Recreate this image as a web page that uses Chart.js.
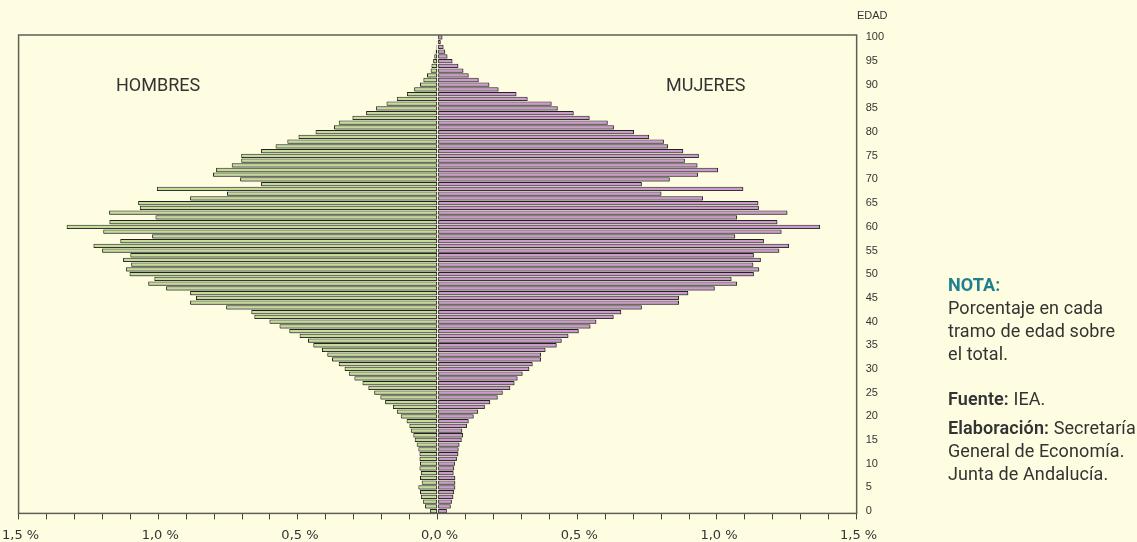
<!DOCTYPE html>
<html>
<head>
<meta charset="utf-8">
<script src="https://cdn.jsdelivr.net/npm/chart.js@4/dist/chart.umd.min.js"></script>
<style>
  html, body { margin: 0; padding: 0; background: #FFFDE1; overflow: hidden; }
  #wrap { position: relative; width: 1137px; height: 542px; overflow: hidden; }
  canvas { position: absolute; left: -8px; top: 0; }
  .lbl { position: absolute; font-family: Roboto, "Liberation Sans", sans-serif; color: #333; white-space: nowrap; }
  #note { position: absolute; left: 948px; top: 273px; font-family: Roboto, "Liberation Sans", sans-serif; font-size: 18px; color: #333; line-height: 23px; letter-spacing: 0.1px; }
  #note .h { color: #1E7F90; font-weight: bold; }
  #note b { font-weight: 600; }
</style>
</head>
<body>
<div id="wrap">
  <canvas id="c" width="1145" height="560"></canvas>
  <div class="lbl" style="left:116px; top:74px; font-size:18px;">HOMBRES</div>
  <div class="lbl" style="left:666px; top:74px; font-size:18px;">MUJERES</div>
  <div class="lbl" style="left:857px; top:9px; font-size:11px; font-family:'Liberation Sans', Arial, sans-serif;">EDAD</div>
  <div id="note">
    <div class="h">NOTA:</div>
    <div>Porcentaje en cada</div>
    <div>tramo de edad sobre</div>
    <div>el total.</div>
    <div style="margin-top:22px;"><b>Fuente:</b> IEA.</div>
    <div style="margin-top:6px;"><b>Elaboración:</b> Secretaría</div>
    <div>General de Economía.</div>
    <div>Junta de Andalucía.</div>
  </div>
</div>
<script>
// Ages 0..100
const ages = [];
for (let a = 0; a <= 100; a++) ages.push(String(a));

// Percent of total population, by single year of age (0..100)
const hombres = [
  0.027, 0.045, 0.053, 0.060, 0.063, 0.069, 0.057, 0.063, 0.060, 0.065,
  0.063, 0.065, 0.065, 0.069, 0.075, 0.082, 0.087, 0.096, 0.101, 0.111,
  0.132, 0.146, 0.160, 0.188, 0.205, 0.227, 0.248, 0.269, 0.298, 0.318,
  0.333, 0.354, 0.378, 0.395, 0.414, 0.445, 0.464, 0.494, 0.531, 0.566,
  0.602, 0.656, 0.667, 0.757, 0.886, 0.865, 0.886, 0.972, 1.036, 1.014,
  1.103, 1.116, 1.097, 1.126, 1.100, 1.201, 1.232, 1.136, 1.022, 1.197,
  1.328, 1.175, 1.010, 1.176, 1.066, 1.072, 0.886, 0.754, 1.005, 0.632,
  0.707, 0.804, 0.793, 0.737, 0.703, 0.703, 0.632, 0.580, 0.538, 0.498,
  0.437, 0.371, 0.354, 0.305, 0.256, 0.221, 0.183, 0.146, 0.110, 0.084,
  0.063, 0.051, 0.038, 0.025, 0.022, 0.016, 0.012, 0.007, 0.004, 0.003,
  0.002
];
const mujeres = [
  0.033, 0.047, 0.051, 0.056, 0.059, 0.063, 0.063, 0.063, 0.057, 0.059,
  0.062, 0.069, 0.074, 0.075, 0.078, 0.086, 0.091, 0.088, 0.105, 0.111,
  0.129, 0.145, 0.169, 0.188, 0.215, 0.233, 0.260, 0.275, 0.286, 0.304,
  0.328, 0.340, 0.370, 0.370, 0.386, 0.426, 0.444, 0.468, 0.505, 0.547,
  0.568, 0.630, 0.657, 0.731, 0.864, 0.864, 0.897, 0.992, 1.072, 1.052,
  1.132, 1.151, 1.130, 1.157, 1.132, 1.223, 1.258, 1.168, 1.065, 1.231,
  1.369, 1.216, 1.072, 1.252, 1.150, 1.148, 0.950, 0.801, 1.094, 0.731,
  0.831, 0.932, 1.004, 0.930, 0.885, 0.935, 0.879, 0.825, 0.810, 0.757,
  0.703, 0.631, 0.609, 0.544, 0.487, 0.430, 0.408, 0.322, 0.282, 0.218,
  0.185, 0.147, 0.111, 0.092, 0.074, 0.053, 0.035, 0.027, 0.021, 0.011,
  0.017
];
const xMin = -1.5, xMax = 1.5, xStep = 0.1;

const framePlugin = {
  id: 'frame',
  beforeDatasetsDraw(chart) {
    const ctx = chart.ctx;
    ctx.save();
    ctx.shadowColor = 'rgba(70,70,70,0.5)';
    ctx.shadowOffsetX = 1;
    ctx.shadowOffsetY = 1;
    ctx.shadowBlur = 0;
  },
  afterDatasetsDraw(chart) {
    chart.ctx.restore();
  },
  afterDraw(chart) {
    const {ctx, chartArea: a} = chart;
    ctx.save();
    ctx.strokeStyle = '#5e5e55';
    ctx.lineWidth = 1.5;
    ctx.strokeRect(a.left, a.top, a.right - a.left, a.bottom - a.top);
    ctx.restore();
  }
};

new Chart(document.getElementById('c'), {
  type: 'bar',
  data: {
    labels: ages,
    datasets: [
      {
        label: 'HOMBRES',
        data: hombres.map(v => -v),
        backgroundColor: '#C3DC97',
        borderColor: '#222',
        borderWidth: 1,
        borderSkipped: false,
        barPercentage: 0.9,
        categoryPercentage: 1.0
      },
      {
        label: 'MUJERES',
        data: mujeres,
        backgroundColor: '#CD9ACD',
        borderColor: '#222',
        borderWidth: 1,
        borderSkipped: false,
        barPercentage: 0.9,
        categoryPercentage: 1.0
      }
    ]
  },
  options: {
    indexAxis: 'y',
    responsive: false,
    animation: false,
    devicePixelRatio: 1,
    layout: { padding: { top: 35, left: 19, right: 244, bottom: 9 } },
    plugins: { legend: { display: false }, tooltip: { enabled: false } },
    scales: {
      x: {
        stacked: true,
        min: xMin, max: xMax,
        grid: { display: true, drawOnChartArea: false, drawTicks: true, tickLength: 6, color: '#444', lineWidth: 1 },
        border: { display: false },
        ticks: {
          stepSize: xStep,
          autoSkip: false,
          maxRotation: 0,
          padding: 8,
          labelOffset: 2,
          color: '#333',
          font: { family: "'DejaVu Sans', sans-serif", size: 13 },
          callback: (v) => {
            const t = Math.round(v * 10);
            if (t % 5 !== 0) return '';
            return Math.abs(t / 10).toFixed(1).replace('.', ',') + ' %';
          }
        }
      },
      y: {
        stacked: true,
        position: 'right',
        reverse: true,
        grid: { display: false, drawTicks: false },
        border: { display: false },
        ticks: {
          autoSkip: false,
          padding: 9,
          crossAlign: 'near',
          color: '#333',
          font: { family: "'Liberation Sans', Arial, sans-serif", size: 11 },
          callback: function (v) {
            const lab = this.getLabelForValue(v);
            return (Number(lab) % 5 === 0) ? lab : '';
          }
        }
      }
    }
  },
  plugins: [framePlugin]
});
</script>
</body>
</html>
